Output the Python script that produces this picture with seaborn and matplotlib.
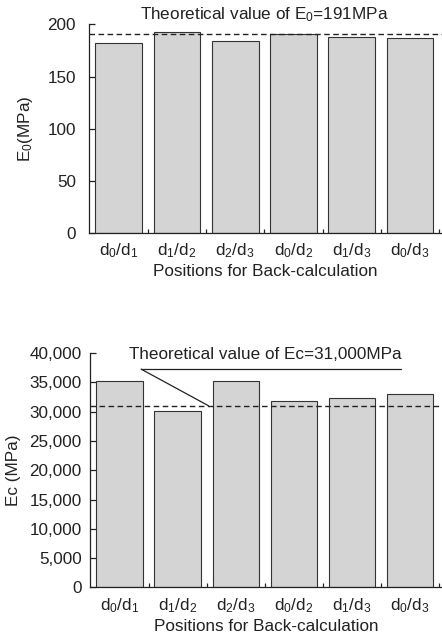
import matplotlib
matplotlib.use("Agg")
import matplotlib.pyplot as plt
import seaborn as sns
import pandas as pd
from matplotlib.ticker import MultipleLocator, FixedLocator, FuncFormatter

sns.set_style("ticks")
plt.rcParams["font.family"] = ["Liberation Sans", "DejaVu Sans"]
plt.rcParams["mathtext.fontset"] = "custom"
plt.rcParams["mathtext.rm"] = "Liberation Sans"
plt.rcParams["mathtext.it"] = "Liberation Sans"

# Position pairs used in the back-calculation
positions = [r"$\mathregular{d_0/d_1}$", r"$\mathregular{d_1/d_2}$", r"$\mathregular{d_2/d_3}$",
             r"$\mathregular{d_0/d_2}$", r"$\mathregular{d_1/d_3}$", r"$\mathregular{d_0/d_3}$"]

# Back-calculated moduli (MPa)
e0_values = [182, 193, 184, 191, 188, 187]
ec_values = [35200, 30100, 35200, 31800, 32400, 33000]

# Theoretical values (MPa)
e0_theory = 191
ec_theory = 31000

BAR_COLOR = "#d4d4d4"
INK = "#222222"
FS = 12.3

fig = plt.figure(figsize=(4.42, 6.39), dpi=100)
ax1 = fig.add_axes([0.2014, 0.6354, 0.7986, 0.3263])
ax2 = fig.add_axes([0.2036, 0.0806, 0.7964, 0.3670])


def style_axis(ax, ymax, step, ylabel, ypad, ylabelpad, fmt=None):
    ax.set_ylim(0, ymax)
    ax.set_xlim(-0.51, 5.55)
    for s in ("top", "right"):
        ax.spines[s].set_visible(False)
    for s in ("left", "bottom"):
        ax.spines[s].set_linewidth(0.9)
        ax.spines[s].set_color(INK)
    ax.yaxis.set_major_locator(MultipleLocator(step))
    if fmt is not None:
        ax.yaxis.set_major_formatter(FuncFormatter(fmt))
    ax.tick_params(axis="y", direction="in", length=4, width=0.9,
                   labelsize=FS, pad=ypad, colors=INK)
    ax.tick_params(axis="x", which="major", length=0, labelsize=FS, pad=6,
                   colors=INK)
    ax.xaxis.set_minor_locator(FixedLocator([0.5, 1.5, 2.5, 3.5, 4.5, 5.5]))
    ax.tick_params(axis="x", which="minor", direction="in", length=3, width=0.9,
                   colors=INK)
    ax.set_xlabel("Positions for Back-calculation", fontsize=FS, labelpad=3,
                  color=INK)
    ax.set_ylabel(ylabel, fontsize=FS, labelpad=ylabelpad, color=INK)


df1 = pd.DataFrame({"pos": positions, "val": e0_values})
sns.barplot(data=df1, x="pos", y="val", order=positions, color=BAR_COLOR,
            edgecolor="#333333", linewidth=0.8, width=0.8, saturation=1, ax=ax1)
ax1.axhline(e0_theory, color=INK, linestyle=(0, (4, 2.5)), linewidth=1.0, zorder=5)
style_axis(ax1, 200, 50, r"$\mathregular{E_0(MPa)}$", ypad=9.5, ylabelpad=9)
ax1.text(2.5, 1.045, r"Theoretical value of $\mathregular{E_0}$=191MPa",
         transform=ax1.get_xaxis_transform(), ha="center", va="center",
         fontsize=FS, color=INK)

df2 = pd.DataFrame({"pos": positions, "val": ec_values})
sns.barplot(data=df2, x="pos", y="val", order=positions, color=BAR_COLOR,
            edgecolor="#333333", linewidth=0.8, width=0.8, saturation=1, ax=ax2)
ax2.axhline(ec_theory, color=INK, linestyle=(0, (4, 2.5)), linewidth=1.0, zorder=5)
style_axis(ax2, 40000, 5000, "Ec (MPa)", ypad=6, ylabelpad=6,
           fmt=lambda v, p: f"{int(v):,}")
ax2.text(2.5, 39800, "Theoretical value of Ec=31,000MPa", ha="center", va="center",
         fontsize=FS, color=INK)
# Underline and leader pointing to the theoretical line
ax2.plot([0.37, 4.85], [37250, 37250], color=INK, linewidth=0.9, zorder=6)
ax2.plot([0.37, 1.53], [37250, ec_theory], color=INK, linewidth=0.9, zorder=6)

fig.savefig("out.png", dpi=100)
